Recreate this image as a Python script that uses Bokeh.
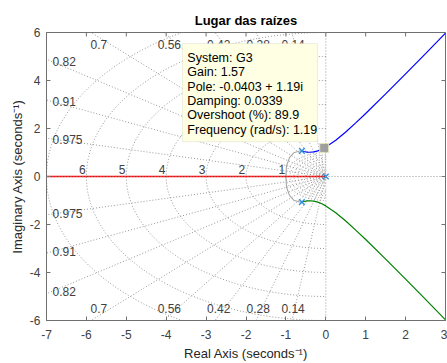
import numpy as np
from bokeh.plotting import figure
from bokeh.models import (ColumnDataSource, FixedTicker, Range1d,
                          LabelSet, Label, BoxAnnotation, Span)
from bokeh.core.properties import value
from bokeh.embed import file_html
from bokeh.resources import INLINE

# ---------------- data ----------------
title_text = "Lugar das raízes"
x_label = "Real Axis (seconds\u207b\u00b9)"
y_label = "Imaginary Axis (seconds\u207b\u00b9)"
x_ticks = [-7, -6, -5, -4, -3, -2, -1, 0, 1, 2, 3]
x_tick_labels = ["-7", "-6", "-5", "-4", "-3", "-2", "-1", "0", "1", "2", "3"]
y_ticks = [-6, -4, -2, 0, 2, 4, 6]
y_tick_labels = ["-6", "-4", "-2", "0", "2", "4", "6"]

poles_re = [0.0, -0.6, -0.6]
poles_im = [0.0, 1.068, -1.068]

branch_up_re = [-0.6, -0.55, -0.5, -0.45, -0.4, -0.3, -0.2, -0.1, 0.0, 0.25, 0.5, 0.75, 1.0, 1.5, 2.0, 2.5, 3.0]
branch_up_im = [1.068, 1.043, 1.025, 1.014, 1.010, 1.025, 1.068, 1.136, 1.225, 1.512, 1.857, 2.233, 2.627, 3.442, 4.278, 5.123, 5.975]
branch_lo_re = [-0.6, -0.55, -0.5, -0.45, -0.4, -0.3, -0.2, -0.1, 0.0, 0.25, 0.5, 0.75, 1.0, 1.5, 2.0, 2.5, 3.0]
branch_lo_im = [-1.068, -1.043, -1.025, -1.014, -1.010, -1.025, -1.068, -1.136, -1.225, -1.512, -1.857, -2.233, -2.627, -3.442, -4.278, -5.123, -5.975]
branch_real_re = [0.0, -7.0]
branch_real_im = [0.0, 0.0]

grey_re = [-0.62, -0.80, -0.91, -0.985, -1.0, -0.985, -0.91, -0.80, -0.62]
grey_im = [1.08, 0.99, 0.785, 0.44, 0.0, -0.44, -0.785, -0.99, -1.08]

zeta_values = [0.14, 0.28, 0.42, 0.56, 0.7, 0.82, 0.91, 0.975]
zeta_labels = ["0.14", "0.28", "0.42", "0.56", "0.7", "0.82", "0.91", "0.975"]
wn_values = [1, 2, 3, 4, 5, 6, 7]
wn_labels = ["1", "2", "3", "4", "5", "6", "7"]
wn_small = [0.1, 0.2, 0.3, 0.4, 0.5, 0.6, 0.7, 0.8, 0.9]

tip_system = "G3"
tip_gain = 1.57
tip_pole_re = -0.0403
tip_pole_im = 1.19
tip_damping = 0.0339
tip_overshoot = 89.9
tip_freq = 1.19

FONT = "Liberation Sans"
GRID_C = "#8c8c8c"
AX_C = "#707070"
LAB_C = "#404040"

XMIN, XMAX, YMIN, YMAX = -7, 3, -6, 6
p = figure(width=447, height=363, x_range=Range1d(XMIN, XMAX), y_range=Range1d(YMIN, YMAX),
           output_backend="svg", toolbar_location=None,
           min_border_left=46, min_border_right=2, min_border_top=32, min_border_bottom=41)
p.grid.visible = False
p.outline_line_color = AX_C
p.background_fill_color = "white"

p.title.text = title_text
p.title.align = "center"
p.title.text_font = FONT
p.title.text_font_size = "13px"
p.title.text_font_style = "bold"
p.title.text_color = "#000000"

for ax, ticks, labels in ((p.xaxis[0], x_ticks, x_tick_labels), (p.yaxis[0], y_ticks, y_tick_labels)):
    ax.ticker = FixedTicker(ticks=ticks)
    ax.major_label_overrides = {t: l for t, l in zip(ticks, labels)}
    ax.major_label_text_font = FONT
    ax.major_label_text_font_size = "12px"
    ax.major_label_text_color = LAB_C
    ax.axis_label_text_font = FONT
    ax.axis_label_text_font_size = "13px"
    ax.axis_label_text_font_style = "normal"
    ax.axis_label_text_color = "#262626"
    ax.axis_line_color = AX_C
    ax.major_tick_line_color = AX_C
    ax.major_tick_in = 4
    ax.major_tick_out = 0
    ax.minor_tick_line_color = None
p.xaxis[0].axis_label = x_label
p.yaxis[0].axis_label = y_label
p.xaxis[0].major_label_standoff = 9
p.xaxis[0].axis_label_standoff = 4
p.yaxis[0].major_label_standoff = 6
p.yaxis[0].axis_label_standoff = 2

# inward ticks on the top and right edges (4 px long: 290 px / 12 units, 399 px / 10 units)
ty = 4 * (YMAX - YMIN) / 290.0
tx = 4 * (XMAX - XMIN) / 399.0
p.segment(x0=x_ticks, y0=[YMAX] * len(x_ticks), x1=x_ticks, y1=[YMAX - ty] * len(x_ticks),
          line_color=AX_C, line_width=1)
p.segment(x0=[XMAX] * len(y_ticks), y0=y_ticks, x1=[XMAX - tx] * len(y_ticks), y1=y_ticks,
          line_color=AX_C, line_width=1)

# ---------------- s-grid ----------------
L = 20.0
ray_xs, ray_ys = [], []
for z in zeta_values:
    s = np.sqrt(1 - z * z)
    ray_xs += [[0, -z * L], [0, -z * L]]
    ray_ys += [[0, s * L], [0, -s * L]]
th = np.linspace(np.pi / 2, 3 * np.pi / 2, 181)
circ_xs = [list(r * np.cos(th)) for r in wn_values + wn_small]
circ_ys = [list(r * np.sin(th)) for r in wn_values + wn_small]
p.multi_line(ray_xs, ray_ys, line_color=GRID_C, line_dash="1 2", line_width=0.9)
p.multi_line(circ_xs, circ_ys, line_color=GRID_C, line_dash="1 2", line_width=0.9)
p.add_layout(Span(location=0, dimension="height", line_color=GRID_C, line_dash="1 2", line_width=0.9))
p.add_layout(Span(location=0, dimension="width", line_color=GRID_C, line_dash="1 2", line_width=0.9))

# damping labels
cx, cy, ct, lx, ly, lt = [], [], [], [], [], []
for z, t in zip(zeta_values, zeta_labels):
    s = np.sqrt(1 - z * z)
    if z <= 0.7:
        for sg in (1, -1):
            cx.append(-5.8 * z / s)
            cy.append(sg * 5.52)
            ct.append(t)
    else:
        for sg in (1, -1):
            lx.append(-6.85)
            ly.append(sg * 6.85 * s / z)
            lt.append(t)

lab_kw = dict(text_baseline="middle", text_font=value(FONT), text_font_size=value("12px"),
              text_color=LAB_C)
p.add_layout(LabelSet(x="x", y="y", text="t", source=ColumnDataSource(dict(x=lx, y=ly, t=lt)),
                      text_align="left", **lab_kw))
p.add_layout(LabelSet(x="x", y="y", text="t", source=ColumnDataSource(dict(x=cx, y=cy, t=ct)),
                      text_align="center", **lab_kw))
# natural frequency labels
wsrc = ColumnDataSource(dict(x=[-w - 0.02 for w in wn_values[:-1]],
                             y=[0.1] * (len(wn_values) - 1), t=wn_labels[:-1]))
p.add_layout(LabelSet(x="x", y="y", text="t", source=wsrc, text_align="right",
                      text_baseline="alphabetic", text_font=value(FONT),
                      text_font_size=value("12px"), text_color=LAB_C))
p.add_layout(Label(x=-wn_values[-1] - 0.02, y=0.1, text=wn_labels[-1], text_align="right",
                   text_baseline="alphabetic", text_font=FONT, text_font_size="12px",
                   text_color=LAB_C))

# ---------------- locus ----------------
p.line(grey_re, grey_im, line_color="#a6a6a6", line_width=1.1)
p.line(branch_real_re, branch_real_im, line_color="#ff0000", line_width=1.6)
p.line(branch_up_re, branch_up_im, line_color="#0000ff", line_width=1.2)
p.line(branch_lo_re, branch_lo_im, line_color="#008000", line_width=1.2)
p.scatter(poles_re, poles_im, marker="x", size=8, line_color="#2a8ee0", line_width=1.3)
p.scatter([tip_pole_re], [tip_pole_im], marker="square", size=9,
          fill_color="#a0a0a0", line_color="#e6e6c0", line_width=1)

# ---------------- data tip ----------------
p.add_layout(BoxAnnotation(left=tip_pole_re - 3.55, right=tip_pole_re - 0.17,
                           bottom=tip_pole_im + 0.26, top=tip_pole_im + 4.35,
                           fill_color="#ffffe4", fill_alpha=1.0,
                           line_color="#c8c8b0", line_width=1, level="overlay"))
tip_lines = [
    "System: %s" % tip_system,
    "Gain: %.2f" % tip_gain,
    "Pole: %.4f + %.2fi" % (tip_pole_re, tip_pole_im),
    "Damping: %.4f" % tip_damping,
    "Overshoot (%%): %.1f" % tip_overshoot,
    "Frequency (rad/s): %.2f" % tip_freq,
]
tsrc = ColumnDataSource(dict(x=[tip_pole_re - 3.43] * len(tip_lines),
                             y=[tip_pole_im + 3.76 - 0.6 * i for i in range(len(tip_lines))],
                             t=tip_lines))
p.add_layout(LabelSet(x="x", y="y", text="t", source=tsrc, text_align="left",
                      text_baseline="middle", text_font=value(FONT),
                      text_font_size=value("12.5px"), text_color="#000000", level="overlay"))

open("out.html", "w").write(file_html(p, INLINE))
